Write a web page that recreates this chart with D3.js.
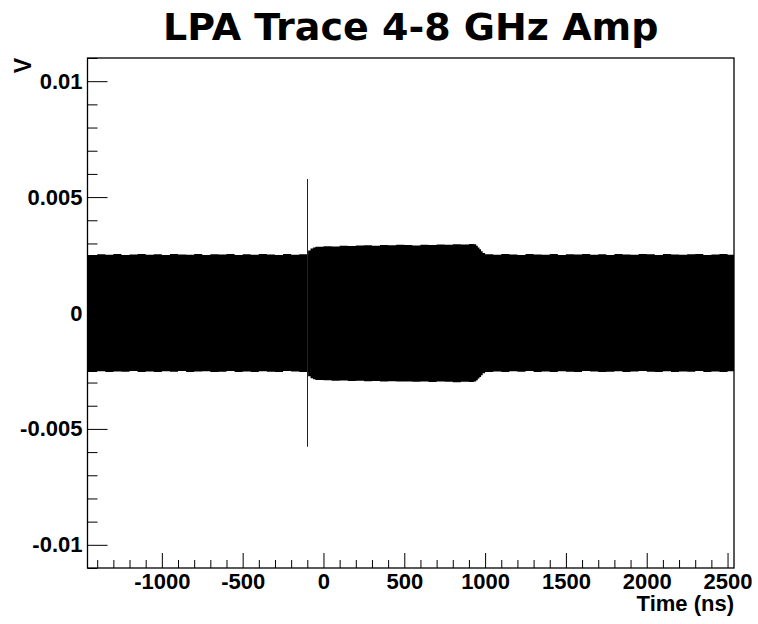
<!DOCTYPE html>
<html>
<head>
<meta charset="utf-8">
<script src="https://cdn.jsdelivr.net/npm/d3@7"></script>
<style>
  body { margin: 0; background: #fff; }
  svg { display: block; }
  .tick text { font-family: "Liberation Sans", Arial, sans-serif; font-weight: bold; }
</style>
</head>
<body>
<div id="container"></div>
<script>
const width = 758, height = 624;
const margin = {left: 87.5, right: 24, top: 58, bottom: 56};

// envelope of the trace (ns, V)
const times = [-1460, -1400, -1350, -1300, -1250, -1200, -1150, -1100, -1050, -1000,
  -950, -900, -850, -800, -750, -700, -650, -600, -550, -500,
  -450, -400, -350, -300, -250, -200, -150, -100, -95, -80, -65,
  -50, 0, 50, 100, 150, 200, 250, 300, 350, 400,
  450, 500, 550, 600, 650, 700, 750, 800, 850, 900,
  930, 945, 955, 965, 975, 985, 1000, 1050, 1100, 1150, 1200, 1250, 1300,
  1350, 1400, 1450, 1500, 1550, 1600, 1650, 1700, 1750, 1800,
  1850, 1900, 1950, 2000, 2050, 2100, 2150, 2200, 2250, 2300,
  2350, 2400, 2450, 2500, 2540];
const upper = [0.00250, 0.00253, 0.00251, 0.00254, 0.00250, 0.00252, 0.00255, 0.00251, 0.00253, 0.00250,
  0.00254, 0.00252, 0.00251, 0.00255, 0.00250, 0.00253, 0.00252, 0.00254, 0.00250, 0.00253,
  0.00251, 0.00255, 0.00252, 0.00250, 0.00254, 0.00251, 0.00253, 0.00252, 0.00270, 0.00278, 0.00283,
  0.00286, 0.00288, 0.00287, 0.00290, 0.00289, 0.00291, 0.00292, 0.00290, 0.00293, 0.00292,
  0.00294, 0.00293, 0.00291, 0.00294, 0.00293, 0.00296, 0.00294, 0.00297, 0.00296, 0.00298,
  0.00297, 0.00290, 0.00283, 0.00275, 0.00266, 0.00259, 0.00253, 0.00251, 0.00254, 0.00252, 0.00250, 0.00255, 0.00252,
  0.00251, 0.00254, 0.00250, 0.00253, 0.00252, 0.00255, 0.00251, 0.00253, 0.00250, 0.00254,
  0.00252, 0.00251, 0.00255, 0.00253, 0.00250, 0.00254, 0.00252, 0.00251, 0.00253, 0.00255,
  0.00250, 0.00252, 0.00254, 0.00251, 0.00253];
const lower = [-0.00254, -0.00251, -0.00255, -0.00252, -0.00253, -0.00250, -0.00254, -0.00252, -0.00255, -0.00251,
  -0.00253, -0.00250, -0.00254, -0.00252, -0.00251, -0.00255, -0.00253, -0.00250, -0.00254, -0.00252,
  -0.00255, -0.00251, -0.00253, -0.00254, -0.00250, -0.00252, -0.00255, -0.00253, -0.00273, -0.00281, -0.00286,
  -0.00289, -0.00290, -0.00292, -0.00291, -0.00293, -0.00292, -0.00294, -0.00293, -0.00295, -0.00294,
  -0.00296, -0.00295, -0.00297, -0.00295, -0.00298, -0.00296, -0.00297, -0.00299, -0.00297, -0.00298,
  -0.00296, -0.00290, -0.00283, -0.00276, -0.00268, -0.00260, -0.00254, -0.00252, -0.00255, -0.00251, -0.00253, -0.00250, -0.00254,
  -0.00252, -0.00255, -0.00251, -0.00253, -0.00254, -0.00250, -0.00252, -0.00255, -0.00253, -0.00251,
  -0.00254, -0.00252, -0.00250, -0.00253, -0.00255, -0.00251, -0.00254, -0.00252, -0.00253, -0.00250,
  -0.00255, -0.00252, -0.00254, -0.00251, -0.00253];

// single sharp pulse
const spikeTime = -100;
const spikeRange = [-0.00577, 0.00578];

const xDomain = [-1460, 2540];
const yDomain = [-0.011, 0.011];
const xTicks = [-1000, -500, 0, 500, 1000, 1500, 2000, 2500];
const xMinor = [-1400, -1300, -1200, -1100, -900, -800, -700, -600, -400, -300, -200, -100,
  100, 200, 300, 400, 600, 700, 800, 900, 1100, 1200, 1300, 1400, 1600, 1700, 1800, 1900,
  2100, 2200, 2300, 2400];
const yTicks = [-0.01, -0.005, 0, 0.005, 0.01];
const yTickLabels = ['-0.01', '-0.005', '0', '0.005', '0.01'];
const yMinor = [-0.011, -0.009, -0.008, -0.007, -0.006, -0.004, -0.003, -0.002, -0.001,
  0.001, 0.002, 0.003, 0.004, 0.006, 0.007, 0.008, 0.009, 0.011];

const svg = d3.select('#container').append('svg')
    .attr('width', width)
    .attr('height', height);

const x = d3.scaleLinear(xDomain, [margin.left, width - margin.right]);
const y = d3.scaleLinear(yDomain, [height - margin.bottom, margin.top]);

const trace = times.map((t, i) => ({t: t, hi: upper[i], lo: lower[i]}));

svg.append('path')
    .datum(trace)
    .attr('fill', '#000')
    .attr('d', d3.area()
        .curve(d3.curveStepAfter)
        .x(d => x(d.t))
        .y0(d => y(d.lo))
        .y1(d => y(d.hi)));

svg.append('line')
    .attr('x1', Math.round(x(spikeTime)) + 0.5)
    .attr('x2', Math.round(x(spikeTime)) + 0.5)
    .attr('y1', y(spikeRange[0]))
    .attr('y2', y(spikeRange[1]))
    .attr('stroke', '#222')
    .attr('stroke-width', 1);

// axes, ROOT style: ticks pointing inward
const fontSize = 22;
const xAxisY = height - margin.bottom;

svg.append('g')
    .attr('transform', `translate(0,${xAxisY})`)
    .call(d3.axisBottom(x).tickValues(xMinor).tickSizeInner(-8).tickSizeOuter(0).tickFormat(''))
    .call(g => g.select('.domain').remove());

svg.append('g')
    .attr('transform', `translate(0,${xAxisY})`)
    .call(d3.axisBottom(x).tickValues(xTicks).tickSizeInner(-15).tickSizeOuter(0)
        .tickPadding(5).tickFormat(d => String(d)))
    .call(g => g.select('.domain').remove())
    .call(g => g.selectAll('text').attr('font-size', fontSize).attr('fill', '#000'));

svg.append('g')
    .attr('transform', `translate(${margin.left},0)`)
    .call(d3.axisLeft(y).tickValues(yMinor).tickSizeInner(-10).tickSizeOuter(0).tickFormat(''))
    .call(g => g.select('.domain').remove());

svg.append('g')
    .attr('transform', `translate(${margin.left},0)`)
    .call(d3.axisLeft(y).tickValues(yTicks).tickSizeInner(-20).tickSizeOuter(0)
        .tickPadding(5).tickFormat((d, i) => yTickLabels[i]))
    .call(g => g.select('.domain').remove())
    .call(g => g.selectAll('text').attr('font-size', fontSize).attr('fill', '#000'));

svg.selectAll('.tick line').attr('stroke', '#000');

// frame
svg.append('rect')
    .attr('x', x(xDomain[0]))
    .attr('y', y(yDomain[1]))
    .attr('width', x(xDomain[1]) - x(xDomain[0]))
    .attr('height', y(yDomain[0]) - y(yDomain[1]))
    .attr('fill', 'none')
    .attr('stroke', '#000')
    .attr('stroke-width', 1.3);

// titles
svg.append('text')
    .attr('x', (x(xDomain[0]) + x(xDomain[1])) / 2)
    .attr('y', 40)
    .attr('text-anchor', 'middle')
    .attr('font-family', '"DejaVu Sans", sans-serif')
    .attr('font-weight', 'bold')
    .attr('font-size', 38)
    .text('LPA Trace 4-8 GHz Amp');

svg.append('text')
    .attr('x', x(xDomain[1]))
    .attr('y', 611)
    .attr('text-anchor', 'end')
    .attr('font-family', '"Liberation Sans", Arial, sans-serif')
    .attr('font-weight', 'bold')
    .attr('font-size', fontSize)
    .text('Time (ns)');

svg.append('text')
    .attr('transform', `translate(31, ${margin.top}) rotate(-90)`)
    .attr('text-anchor', 'end')
    .attr('font-family', '"Liberation Sans", Arial, sans-serif')
    .attr('font-weight', 'bold')
    .attr('font-size', 23)
    .text('V');
</script>
</body>
</html>
